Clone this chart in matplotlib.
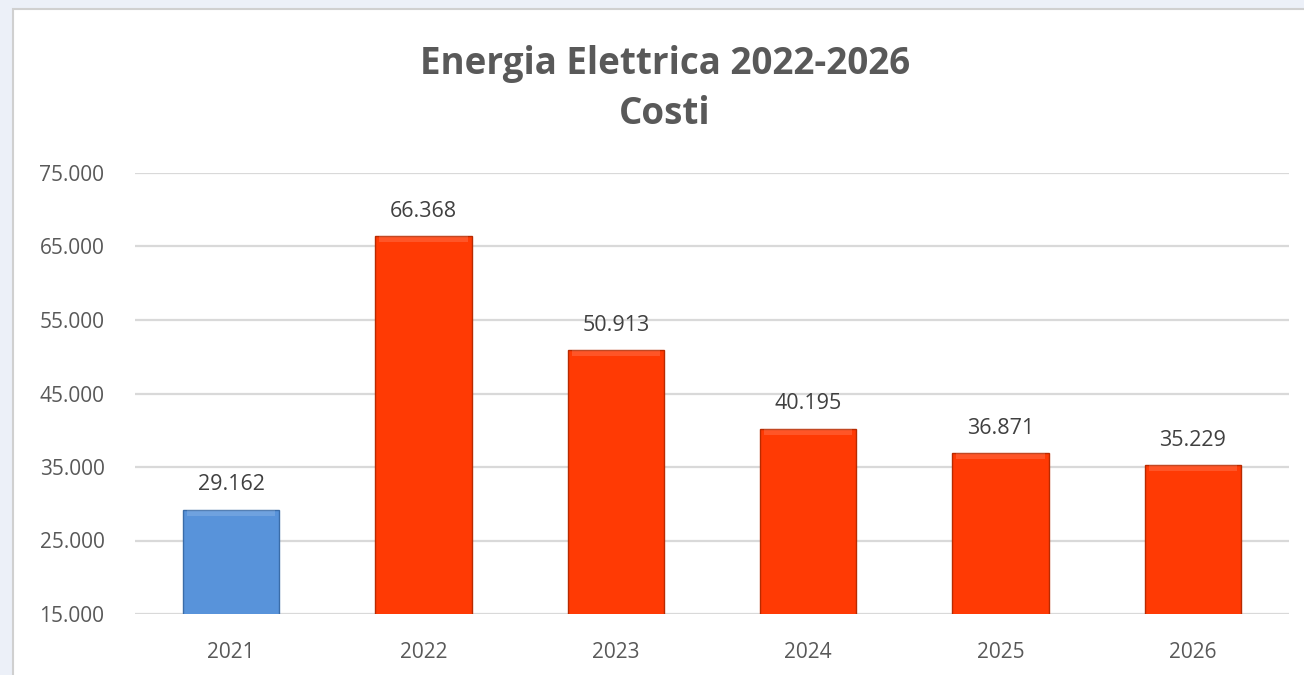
import matplotlib.pyplot as plt
from matplotlib.patches import Rectangle

# Data
years = ["2021", "2022", "2023", "2024", "2025", "2026"]
costs = [29162, 66368, 50913, 40195, 36871, 35229]
colors = ["#5893DA", "#FF3A04", "#FF3A04", "#FF3A04", "#FF3A04", "#FF3A04"]
edge_colors = ["#3A6CA8", "#B82A00", "#B82A00", "#B82A00", "#B82A00", "#B82A00"]
y_ticks = [15000, 25000, 35000, 45000, 55000, 65000, 75000]

plt.rcParams['font.family'] = ['Open Sans', 'DejaVu Sans']

fig = plt.figure(figsize=(13.04, 6.75), dpi=100)
fig.patch.set_facecolor("#ECF0F8")

# white chart area with a light border
fig.patches.append(Rectangle((13 / 1304, -0.05), 1.1, 1.05 - 9 / 675,
                             transform=fig.transFigure, facecolor="white",
                             edgecolor="#D0D0D0", linewidth=1.5, zorder=-1))

ax = fig.add_axes([135 / 1304, 1 - 614 / 675, (1289 - 135) / 1304, (614 - 173) / 675])
ax.set_facecolor("none")
ax.set_zorder(2)

x = list(range(len(years)))
bars = ax.bar(x, costs, width=0.5, color=colors, edgecolor=edge_colors,
              linewidth=1.0, zorder=3)

# light bevel on the top of each bar
ax.bar(x, [800] * len(x), width=0.46, bottom=[c - 800 for c in costs],
       color="white", alpha=0.14, linewidth=0, zorder=4)

for xi, c in zip(x, costs):
    ax.text(xi, c + 3400, f"{c:,}".replace(",", "."), ha="center", va="center",
            fontsize=15.5, color="#404040")

ax.set_ylim(15000, 75000)
ax.set_xlim(-0.5, len(years) - 0.5)
ax.set_yticks(y_ticks)
ax.set_yticklabels([f"{t:,}".replace(",", ".") for t in y_ticks])
ax.set_xticks(x)
ax.set_xticklabels(years)
ax.tick_params(axis="both", length=0, labelsize=15, labelcolor="#595959")
ax.tick_params(axis="y", pad=22)
ax.tick_params(axis="x", pad=20)
ax.grid(axis="y", color="#D9D9D9", linewidth=1.6, zorder=0)
for s in ax.spines.values():
    s.set_visible(False)

fig.text(665 / 1304, 1 - 64 / 675, "Energia Elettrica 2022-2026", ha="center", va="center",
         fontsize=26.5, fontweight="bold", color="#595959")
fig.text(665 / 1304, 1 - 114 / 675, "Costi", ha="center", va="center",
         fontsize=26.5, fontweight="bold", color="#595959")

fig.savefig("out.png", dpi=100)
